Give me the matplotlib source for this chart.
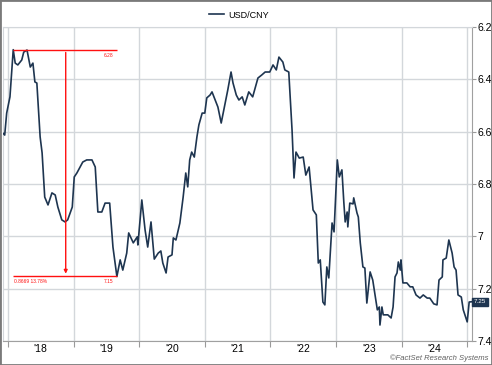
import math
import matplotlib.pyplot as plt
import matplotlib.transforms as mtransforms
from matplotlib.patches import Rectangle

# USD/CNY (x in decimal years)
years = [2017.92, 2017.95, 2017.98, 2018.03, 2018.08, 2018.11, 2018.15, 2018.21, 2018.24, 2018.29,
         2018.34, 2018.38, 2018.41, 2018.44, 2018.49, 2018.52, 2018.56, 2018.61, 2018.67, 2018.72,
         2018.76, 2018.82, 2018.87, 2018.91, 2018.98, 2019.01, 2019.05, 2019.10, 2019.14, 2019.20,
         2019.28, 2019.33, 2019.37, 2019.43, 2019.48, 2019.55, 2019.60, 2019.66, 2019.71, 2019.75,
         2019.81, 2019.84, 2019.91, 2019.97, 2019.98, 2020.04, 2020.09, 2020.13, 2020.18, 2020.23,
         2020.29, 2020.33, 2020.36, 2020.41, 2020.44, 2020.50, 2020.52, 2020.56, 2020.62, 2020.67,
         2020.71, 2020.74, 2020.77, 2020.80, 2020.84, 2020.88, 2020.91, 2020.96, 2021.00, 2021.03,
         2021.08, 2021.11, 2021.14, 2021.20, 2021.25, 2021.28, 2021.32, 2021.35, 2021.40, 2021.43,
         2021.48, 2021.52, 2021.57, 2021.61, 2021.67, 2021.73, 2021.81, 2021.87, 2021.92, 2021.99,
         2022.04, 2022.09, 2022.13, 2022.19, 2022.22, 2022.28, 2022.33, 2022.36, 2022.39, 2022.44,
         2022.50, 2022.54, 2022.59, 2022.65, 2022.70, 2022.73, 2022.76, 2022.80, 2022.83, 2022.86,
         2022.89, 2022.94, 2022.97, 2023.02, 2023.05, 2023.09, 2023.12, 2023.14, 2023.17, 2023.18,
         2023.21, 2023.26, 2023.27, 2023.32, 2023.34, 2023.37, 2023.41, 2023.44, 2023.47, 2023.52,
         2023.56, 2023.63, 2023.66, 2023.67, 2023.70, 2023.72, 2023.79, 2023.84, 2023.87, 2023.90,
         2023.93, 2023.95, 2023.98, 2023.99, 2024.02, 2024.08, 2024.13, 2024.17, 2024.22, 2024.28,
         2024.33, 2024.39, 2024.43, 2024.49, 2024.54, 2024.57, 2024.62, 2024.63, 2024.68, 2024.72,
         2024.77, 2024.80, 2024.83, 2024.86, 2024.91, 2024.94, 2025.00, 2025.03, 2025.07]
usdcny = [6.605, 6.613, 6.529, 6.467, 6.2866, 6.338, 6.345, 6.326, 6.296, 6.288,
          6.353, 6.338, 6.410, 6.414, 6.620, 6.681, 6.850, 6.880, 6.834, 6.842,
          6.888, 6.937, 6.945, 6.937, 6.888, 6.773, 6.758, 6.735, 6.716, 6.708,
          6.708, 6.735, 6.907, 6.907, 6.873, 6.873, 7.041, 7.1535, 7.090, 7.129,
          7.064, 6.987, 7.025, 7.002, 7.033, 6.861, 6.976, 7.041, 6.945, 7.087,
          7.064, 7.056, 7.102, 7.140, 7.079, 7.071, 7.006, 7.014, 6.949, 6.850,
          6.758, 6.811, 6.708, 6.678, 6.697, 6.620, 6.574, 6.529, 6.529, 6.471,
          6.460, 6.448, 6.467, 6.506, 6.567, 6.529, 6.479, 6.441, 6.372, 6.414,
          6.460, 6.479, 6.467, 6.498, 6.448, 6.467, 6.395, 6.383, 6.372, 6.372,
          6.345, 6.364, 6.315, 6.334, 6.364, 6.372, 6.594, 6.777, 6.678, 6.701,
          6.697, 6.766, 6.735, 6.899, 6.918, 7.102, 7.090, 7.251, 7.262, 7.117,
          7.159, 6.949, 6.983, 6.708, 6.773, 6.746, 6.873, 6.945, 6.907, 6.964,
          6.873, 6.876, 6.853, 6.911, 6.926, 7.025, 7.117, 7.121, 7.255, 7.136,
          7.167, 7.281, 7.270, 7.339, 7.270, 7.300, 7.300, 7.312, 7.270, 7.155,
          7.140, 7.098, 7.129, 7.090, 7.178, 7.178, 7.193, 7.193, 7.224, 7.236,
          7.224, 7.236, 7.236, 7.258, 7.262, 7.167, 7.155, 7.090, 7.083, 7.014,
          7.064, 7.117, 7.129, 7.224, 7.232, 7.281, 7.327, 7.251, 7.25]

year_ticks = [2018, 2019, 2020, 2021, 2022, 2023, 2024, 2025]
year_labels = ["'18", "'19", "'20", "'21", "'22", "'23", "'24"]
y_ticks = [6.2, 6.4, 6.6, 6.8, 7.0, 7.2, 7.4]

# high/low annotation
hl_start, hl_end, hl_arrow = 2018.08, 2019.66, 2018.88
hl_high, hl_low = 6.2866, 7.1535

line_color = '#1e3550'
grid_color = '#d3d7db'


def trunc(v, n):
    # FactSet cuts the digits instead of rounding
    f = 10 ** n
    return '{:.{}f}'.format(math.floor(v * f + 1e-9) / f, n)


plt.rcParams['font.family'] = ['Liberation Sans', 'DejaVu Sans']

fig = plt.figure(figsize=(4.92, 3.65), dpi=100)
ax = fig.add_axes([3 / 492, 1 - 341 / 365, 469 / 492, 314 / 365])

ax.plot(years, usdcny, color=line_color, lw=1.2, label='USD/CNY', zorder=3)

ax.set_xlim(2017.924, 2025.073)
ax.set_ylim(7.4, 6.2)

ax.set_xticks(year_ticks)
ax.set_xticklabels([])
ax.set_xticks([y + 0.5 for y in year_ticks[:-1]], minor=True)
ax.set_xticklabels(year_labels, minor=True)
ax.tick_params(axis='x', which='major', length=4, color='#9a9a9a')
ax.tick_params(axis='x', which='minor', length=0, labelsize=7.5, pad=2)

ax.yaxis.tick_right()
ax.set_yticks(y_ticks)
ax.set_yticklabels(['{:g}'.format(v) for v in y_ticks])
ax.tick_params(axis='y', length=3, pad=1, labelsize=7.5, color='#9a9a9a')

ax.grid(True, which='major', color=grid_color, lw=1.0)
for s in ['left', 'top']:
    ax.spines[s].set_color(grid_color)
for s in ['right', 'bottom']:
    ax.spines[s].set_color('#a0a0a0')

# high / low markers
red = '#ff1010'
diff = hl_low - hl_high
ax.hlines([hl_high, hl_low], hl_start, hl_end, color=red, lw=1.0, zorder=4)
ax.annotate('', xy=(hl_arrow, hl_low), xytext=(hl_arrow, hl_high),
            arrowprops=dict(arrowstyle='-|>', color=red, lw=1.0, mutation_scale=5), zorder=4)
ax.text(hl_end - 0.05, hl_high + 0.012, trunc(hl_high, 2), color=red,
        fontsize=3.5, ha='right', va='top')
ax.text(hl_start + 0.01, hl_low + 0.01, trunc(diff, 4) + ' ' + trunc(diff / hl_high * 100, 2) + '%',
        color=red, fontsize=3.5, ha='left', va='top')
ax.text(hl_end - 0.05, hl_low + 0.01, trunc(hl_low, 2), color=red,
        fontsize=3.5, ha='right', va='top')

# last value tag on right axis
trans = mtransforms.blended_transform_factory(ax.transAxes, ax.transData)
ax.text(1.004, usdcny[-1], '{:.2f}'.format(usdcny[-1]), transform=trans, color='white',
        fontsize=4.5, ha='left', va='center', clip_on=False,
        bbox=dict(boxstyle='square,pad=0.25', fc=line_color, ec=line_color))

ax.legend(loc='center', bbox_to_anchor=(0.486, 1 - 15 / 365), bbox_transform=fig.transFigure,
          frameon=False, fontsize=6.5, handlelength=1.6, handletextpad=0.5)

fig.text(488 / 492, 1 - 358 / 365, '\u00a9FactSet Research Systems', fontsize=5.5,
         style='italic', color='#606060', ha='right', va='center')

fig.patches.append(Rectangle((0, 0), 1, 1, transform=fig.transFigure, fill=False,
                             ec='#7a7a7a', lw=2.0))

fig.savefig('out.png', dpi=100)
